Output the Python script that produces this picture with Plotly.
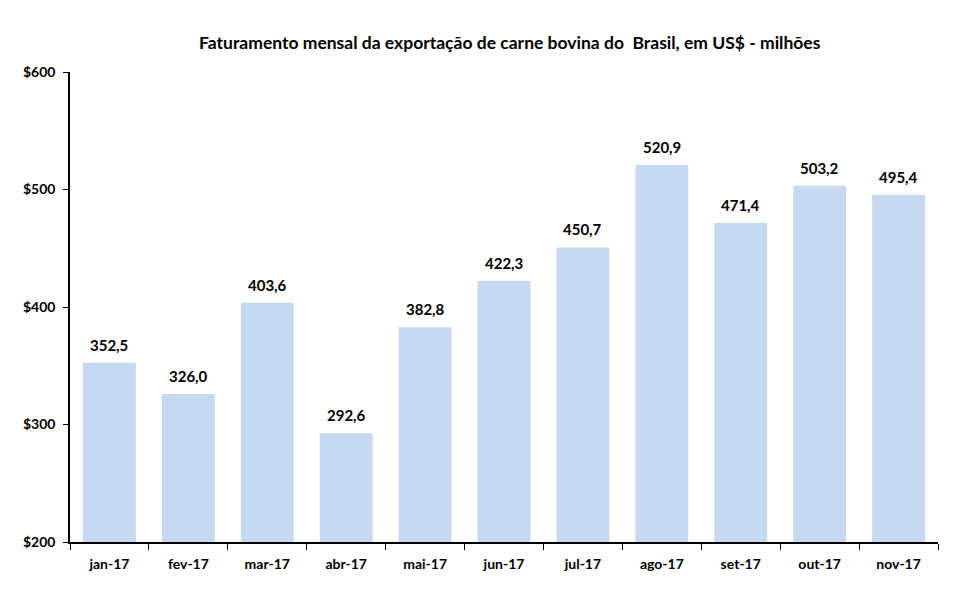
import plotly.graph_objects as go

categories = ["jan-17", "fev-17", "mar-17", "abr-17", "mai-17", "jun-17",
              "jul-17", "ago-17", "set-17", "out-17", "nov-17"]
values = [352.5, 326.0, 403.6, 292.6, 382.8, 422.3, 450.7, 520.9, 471.4, 503.2, 495.4]
title = "Faturamento mensal da exportação de carne bovina do  Brasil, em US$ - milhões"

FONT = "Lato"

fig = go.Figure(go.Bar(
    x=categories, y=values,
    marker=dict(color="#C6D9F0", line=dict(width=0)),
    cliponaxis=False,
))

for c, v in zip(categories, values):
    fig.add_annotation(x=c, y=v, text=f"{v:.1f}".replace(".", ","),
                       showarrow=False, yanchor="bottom", yshift=7,
                       font=dict(family=FONT, size=15, color="#000", weight="bold"))

fig.update_layout(
    width=960, height=593,
    paper_bgcolor="white", plot_bgcolor="white",
    margin=dict(l=70, r=22, t=72, b=51),
    separators=",.",
    bargap=0.33,
    showlegend=False,
    title=dict(text=title, x=0.531, xanchor="center", y=0.927, yanchor="middle",
               font=dict(family=FONT, size=17.5, color="#000", weight="bold")),
    xaxis=dict(showline=True, linecolor="#000", linewidth=1.5,
               ticks="outside", tickson="boundaries", ticklen=6, tickcolor="#000",
               ticklabelstandoff=8,
               tickfont=dict(family=FONT, size=14, color="#000", weight="bold"),
               showgrid=False),
    yaxis=dict(range=[200, 600], dtick=100, tickprefix="$", tickformat="d",
               showline=True, linecolor="#000", linewidth=1.5,
               ticks="outside", ticklen=5, tickcolor="#000",
               ticklabelstandoff=5,
               tickfont=dict(family=FONT, size=14, color="#000", weight="bold"),
               showgrid=False, zeroline=False),
)

fig.write_html("out.html")
